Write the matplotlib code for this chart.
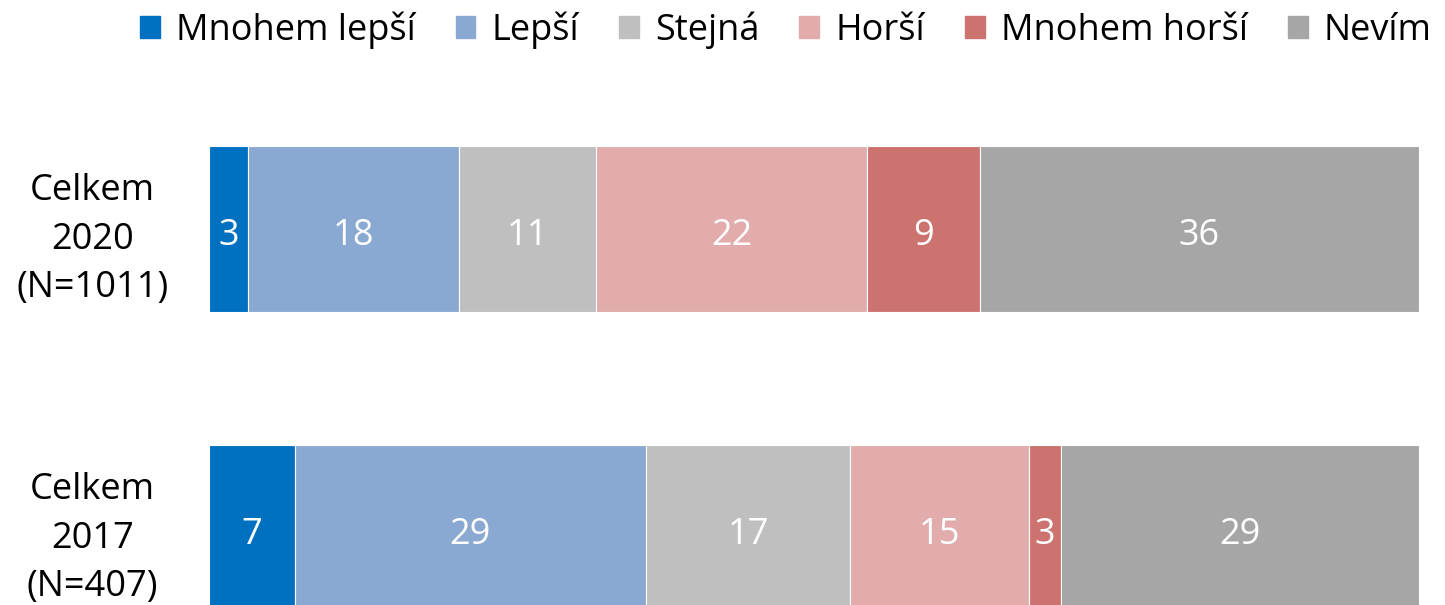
import matplotlib.pyplot as plt
from matplotlib.patches import Patch

plt.rcParams['font.family'] = ['Open Sans', 'DejaVu Sans']

categories = ["Mnohem lepší", "Lepší", "Stejná", "Horší", "Mnohem horší", "Nevím"]
colors = ["#0070C0", "#8AA9D2", "#BFBFBF", "#E1ACAB", "#CC736F", "#A6A6A6"]
rows = ["Celkem\n2020\n(N=1011)", "Celkem\n2017\n(N=407)"]

# shares, labels as printed on the chart
shares_2020 = [3.2, 17.5, 11.3, 22.4, 9.3, 36.3]
shares_2017 = [7.1, 29.0, 16.9, 14.8, 2.6, 29.6]
labels_2020 = [3, 18, 11, 22, 9, 36]
labels_2017 = [7, 29, 17, 15, 3, 29]

shares = [shares_2020, shares_2017]
labels = [labels_2020, labels_2017]

fig = plt.figure(figsize=(14.45, 6.05), dpi=100)
ax = fig.add_axes([209 / 1445, 0, 1210 / 1445, 1])

for r in range(len(rows)):
    left = 0
    tot = sum(shares[r])
    for i in range(len(categories)):
        w = shares[r][i] / tot * 100
        ax.barh(r, w, left=left, height=0.555, color=colors[i],
                edgecolor="white", linewidth=0.8)
        ax.text(left + w / 2, r + 0.022, str(labels[r][i]), ha="center",
                va="center", color="white", fontsize=26)
        left += w

ax.set_xlim(0, 100)
ax.set_ylim(1.2575, -0.766)
ax.set_yticks(range(len(rows)))
ax.set_yticklabels(rows, fontsize=26, linespacing=1.45)
for t in ax.get_yticklabels():
    t.set_horizontalalignment("center")
ax.tick_params(axis="y", length=0, pad=84)
ax.set_xticks([])
for s in ax.spines.values():
    s.set_visible(False)

handles = [Patch(color=c) for c in colors]
fig.legend(handles, categories, loc="center left",
           bbox_to_anchor=(140 / 1445, 1 - 30 / 605), ncol=6, frameon=False,
           fontsize=26, handlelength=0.55, handleheight=0.55,
           handletextpad=0.45, columnspacing=1.1, borderpad=0, borderaxespad=0)

fig.savefig("out.png", dpi=100)
